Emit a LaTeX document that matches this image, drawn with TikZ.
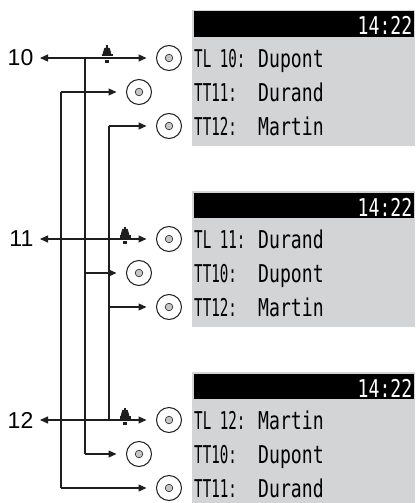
\documentclass[tikz,border=0pt]{standalone}
\usepackage{fontspec}
\newfontfamily\lcdfont[FakeStretch=0.74]{DejaVu Sans Mono}
\newfontfamily\lcdnarrow[FakeStretch=0.58]{DejaVu Sans Mono}
\newfontfamily\labfont{Liberation Sans}
\usetikzlibrary{arrows.meta}
\definecolor{lcdbg}{RGB}{211,212,214}
\definecolor{inkc}{RGB}{30,30,30}
\newcommand{\lcdrow}[2]{\makebox[64pt][l]{\lcdnarrow #1}#2}
\begin{document}
\begin{tikzpicture}[x=1pt,y=-1pt,
  wire/.style={line width=1.1pt, inkc},
  arr/.style={wire, -{Triangle[length=8pt,width=7pt]}, shorten >=10pt},
  knob/.style={circle, draw=inkc, line width=1pt, minimum size=25pt, inner sep=0pt, outer sep=0pt,
    path picture={\draw[fill=gray!45, line width=0.6pt, draw=inkc] (path picture bounding box.center) circle (3.8pt);}},
  lab/.style={inner sep=0pt, font=\labfont\fontsize{23}{23}\selectfont, anchor=east},
  lcd/.style={inner sep=0pt, font=\lcdfont\fontsize{24.5}{24.5}\selectfont, anchor=base west},
  clock/.style={inner sep=0pt, text=white, font=\lcdfont\fontsize{24.5}{24.5}\selectfont, anchor=base east},
  bell/.pic={
    \fill[inkc] (-1.2,-12.5) rectangle (1.2,-9.9);
    \fill[inkc] (-2.6,-10.1) -- (2.6,-10.1) -- (3.9,-5.8) -- (4.4,-3.5) -- (-4.4,-3.5) -- (-3.9,-5.8) -- cycle;
    \fill[inkc] (-5.5,-3.6) rectangle (5.5,-1.5);
    \fill[inkc] (-1.8,1.6) rectangle (1.8,4.8);
  }]
\useasboundingbox (0,0) rectangle (416,503);

% screens
\fill[lcdbg] (192,10) rectangle (415,146);
\fill[black] (193.5,11.5) rectangle (414,37);
\node[clock] (h1) at (412.5,35) {14:22};
\node[lcd] (s11) at (194,67) {\lcdrow{TL 10:}{Dupont}};
\node[lcd] (s12) at (194,101) {\lcdrow{TT11:}{Durand}};
\node[lcd] (s13) at (194,135) {\lcdrow{TT12:}{Martin}};

\fill[lcdbg] (192,191) rectangle (415,327);
\fill[black] (193.5,192.5) rectangle (414,218);
\node[clock] (h2) at (412.5,216) {14:22};
\node[lcd] (s21) at (194,248) {\lcdrow{TL 11:}{Durand}};
\node[lcd] (s22) at (194,282) {\lcdrow{TT10:}{Dupont}};
\node[lcd] (s23) at (194,316) {\lcdrow{TT12:}{Martin}};

\fill[lcdbg] (192,372) rectangle (415,503);
\fill[black] (193.5,373.5) rectangle (414,399);
\node[clock] (h3) at (412.5,397) {14:22};
\node[lcd] (s31) at (194,429) {\lcdrow{TL 12:}{Martin}};
\node[lcd] (s32) at (194,463) {\lcdrow{TT10:}{Dupont}};
\node[lcd] (s33) at (194,497) {\lcdrow{TT11:}{Durand}};

% knobs
\node[knob] (c11) at (169,58) {};
\node[knob] (c12) at (139,92) {};
\node[knob] (c13) at (169,126) {};
\node[knob] (c21) at (169,239) {};
\node[knob] (c22) at (139,273) {};
\node[knob] (c23) at (169,307) {};
\node[knob] (c31) at (169,420) {};
\node[knob] (c32) at (139,454) {};
\node[knob] (c33) at (169,488) {};

% line labels
\node[lab] (l10) at (33.5,58) {10};
\node[lab] (l11) at (33.5,239) {11};
\node[lab] (l12) at (33.5,420) {12};

% bells and bus positions
\coordinate (b1) at (107,58);
\coordinate (b2) at (125,239);
\coordinate (b3) at (125,420);
\coordinate (busB) at (61,0);
\coordinate (busA) at (85,0);
\coordinate (busC) at (109,0);

% main lines
\draw[arr, shorten >=6.5pt] (b1) -- (l10);
\draw[arr] (b1) -- (c11);
\draw[arr, shorten >=6.5pt] (b2) -- (l11);
\draw[arr] (b2) -- (c21);
\draw[arr, shorten >=6.5pt] (b3) -- (l12);
\draw[arr] (b3) -- (c31);

% bus A (line 10)
\draw[wire] (b1 -| busA) -- (c32 -| busA);
\draw[arr] (c22 -| busA) -- (c22);
\draw[arr] (c32 -| busA) -- (c32);
% bus B (line 11)
\draw[wire] (c12 -| busB) -- (c33 -| busB);
\draw[arr] (c12 -| busB) -- (c12);
\draw[arr] (c33 -| busB) -- (c33);
% bus C (line 12)
\draw[wire] (c13 -| busC) -- (b3 -| busC);
\draw[arr] (c13 -| busC) -- (c13);
\draw[arr] (c23 -| busC) -- (c23);

\pic at (b1) {bell};
\pic at (b2) {bell};
\pic at (b3) {bell};
\end{tikzpicture}
\end{document}
